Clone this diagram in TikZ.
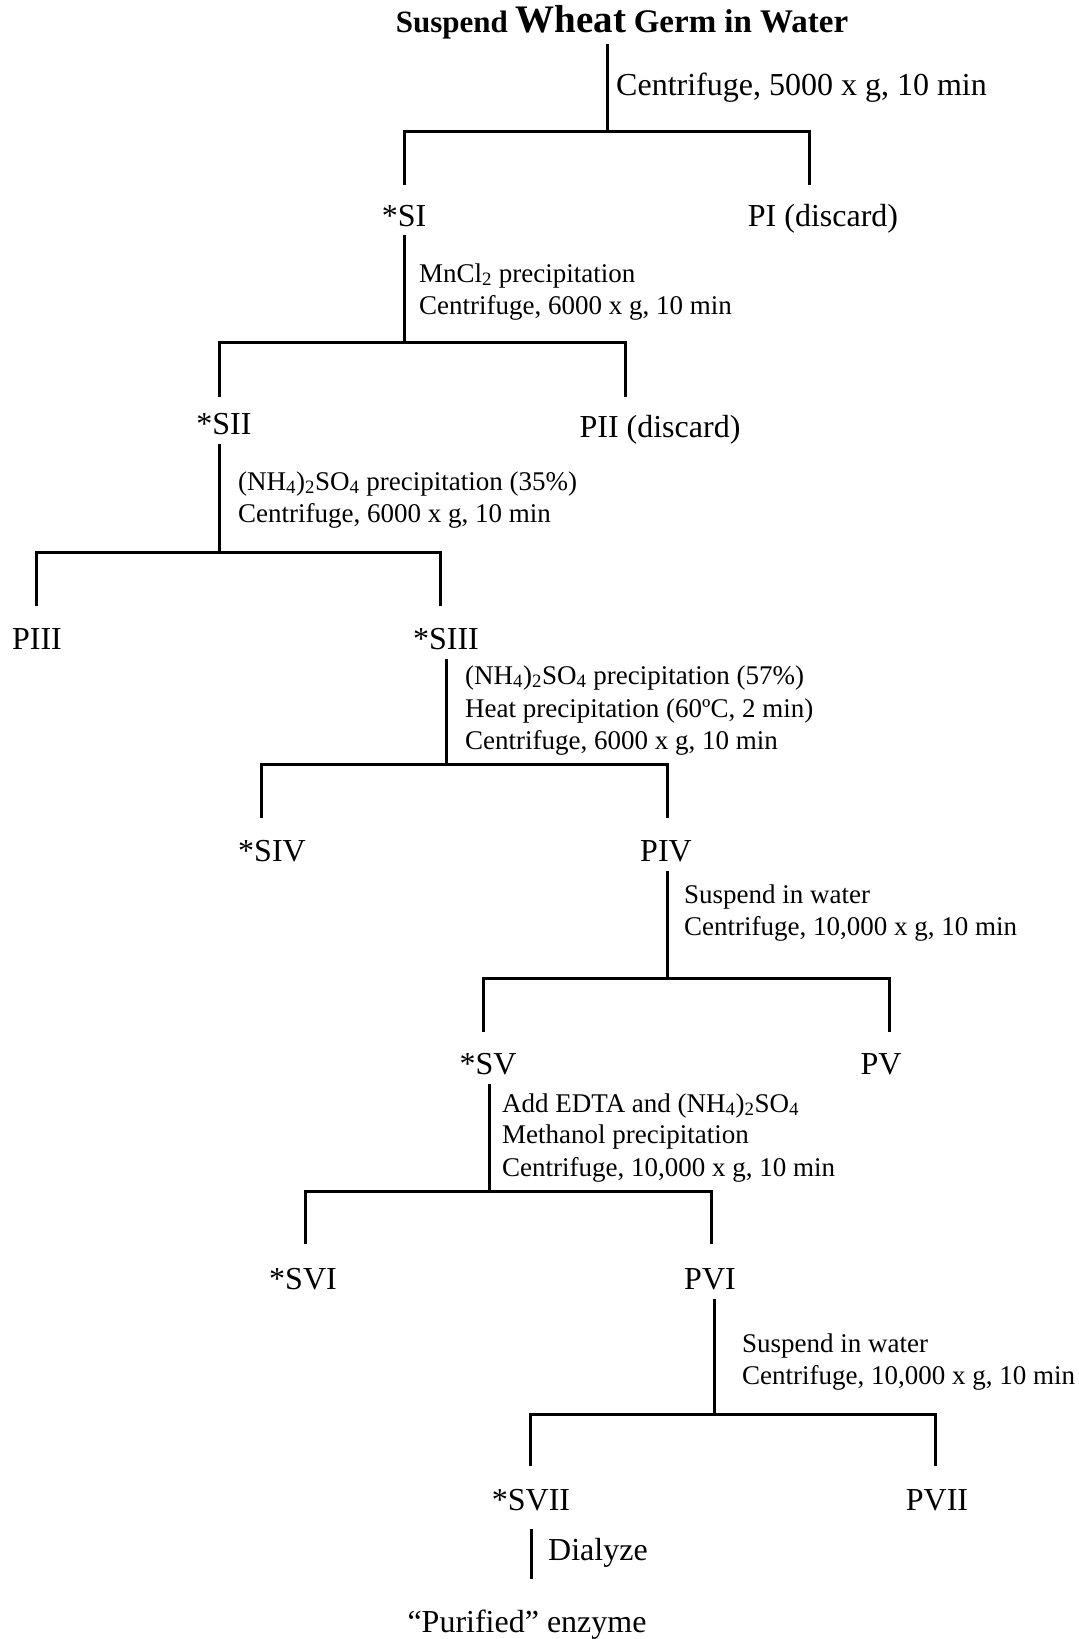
\documentclass[tikz,border=0pt]{standalone}
\usepackage{fontspec}
\setmainfont{Liberation Serif}
\begin{document}
\begin{tikzpicture}[x=1pt,y=-1pt,
  big/.style={font=\fontsize{32}{38}\selectfont, inner sep=0pt, anchor=base},
  lbig/.style={font=\fontsize{32}{38}\selectfont, inner sep=0pt, anchor=base west},
  lbl/.style={font=\fontsize{27}{32}\selectfont, inner sep=0pt, anchor=base west},
  link/.style={line width=3pt}]
\useasboundingbox (0,0) rectangle (1079,1639);

% Title
\node[inner sep=0pt, anchor=base] (title) at (622,32)
  {\bfseries\fontsize{31}{36}\selectfont Suspend {\fontsize{39}{44}\selectfont Wheat} {\fontsize{33}{38}\selectfont Germ in Water}};

% Stage 1
\coordinate (t1) at (607,44); \coordinate (j1) at (607,131);
\coordinate (l1) at (404,185); \coordinate (r1) at (809,185);
\draw[link] (t1) -- (j1);
\draw[link] (l1) |- (j1) -| (r1);
\node[lbig] (c1) at (616,95) {Centrifuge, 5000 x g, 10 min};
\node[big] (SI) at (404,226) {*SI};
\node[big] (PI) at (823,226) {PI (discard)};

% Stage 2
\coordinate (t2) at (404,235); \coordinate (j2) at (404,342);
\coordinate (l2) at (219,397); \coordinate (r2) at (625,397);
\draw[link] (t2) -- (j2);
\draw[link] (l2) |- (j2) -| (r2);
\node[lbl] (m2a) at (419,282) {MnCl\textsubscript{2} precipitation};
\node[lbl] (m2b) at (419,314) {Centrifuge, 6000 x g, 10 min};
\node[big] (SII) at (224,434) {*SII};
\node[big] (PII) at (660,437) {PII (discard)};

% Stage 3
\coordinate (t3) at (219,444); \coordinate (j3) at (219,552);
\coordinate (l3) at (36,606); \coordinate (r3) at (440,606);
\draw[link] (t3) -- (j3);
\draw[link] (l3) |- (j3) -| (r3);
\node[lbl] (m3a) at (238,490) {(NH\textsubscript{4})\textsubscript{2}SO\textsubscript{4} precipitation (35\%)};
\node[lbl] (m3b) at (238,522) {Centrifuge, 6000 x g, 10 min};
\node[big] (PIII) at (37,649) {PIII};
\node[big] (SIII) at (446,649) {*SIII};

% Stage 4
\coordinate (t4) at (446,659); \coordinate (j4) at (446,764);
\coordinate (l4) at (261,818); \coordinate (r4) at (667,818);
\draw[link] (t4) -- (j4);
\draw[link] (l4) |- (j4) -| (r4);
\node[lbl] (m4a) at (465,684) {(NH\textsubscript{4})\textsubscript{2}SO\textsubscript{4} precipitation (57\%)};
\node[lbl] (m4b) at (465,717) {Heat precipitation (60ºC, 2 min)};
\node[lbl] (m4c) at (465,749) {Centrifuge, 6000 x g, 10 min};
\node[big] (SIV) at (272,861) {*SIV};
\node[big] (PIV) at (666,861) {PIV};

% Stage 5
\coordinate (t5) at (667,871); \coordinate (j5) at (667,978);
\coordinate (l5) at (483,1032); \coordinate (r5) at (889,1032);
\draw[link] (t5) -- (j5);
\draw[link] (l5) |- (j5) -| (r5);
\node[lbl] (m5a) at (684,903) {Suspend in water};
\node[lbl] (m5b) at (684,935) {Centrifuge, 10,000 x g, 10 min};
\node[big] (SV) at (488,1074) {*SV};
\node[big] (PV) at (881,1074) {PV};

% Stage 6
\coordinate (t6) at (489,1084); \coordinate (j6) at (489,1191);
\coordinate (l6) at (305,1244); \coordinate (r6) at (711,1244);
\draw[link] (t6) -- (j6);
\draw[link] (l6) |- (j6) -| (r6);
\node[lbl] (m6a) at (502,1112) {Add EDTA and (NH\textsubscript{4})\textsubscript{2}SO\textsubscript{4}};
\node[lbl] (m6b) at (502,1143) {Methanol precipitation};
\node[lbl] (m6c) at (502,1176) {Centrifuge, 10,000 x g, 10 min};
\node[big] (SVI) at (303,1289) {*SVI};
\node[big] (PVI) at (710,1289) {PVI};

% Stage 7
\coordinate (t7) at (714,1299); \coordinate (j7) at (714,1414);
\coordinate (l7) at (530,1466); \coordinate (r7) at (935,1466);
\draw[link] (t7) -- (j7);
\draw[link] (l7) |- (j7) -| (r7);
\node[lbl] (m7a) at (742,1352) {Suspend in water};
\node[lbl] (m7b) at (742,1384) {Centrifuge, 10,000 x g, 10 min};
\node[big] (SVII) at (531,1510) {*SVII};
\node[big] (PVII) at (937,1510) {PVII};

% Stage 8
\coordinate (t8) at (531,1529); \coordinate (b8) at (531,1579);
\draw[link] (t8) -- (b8);
\node[lbig] (dia) at (548,1560) {Dialyze};
\node[big] (pur) at (527,1632) {“Purified” enzyme};
\end{tikzpicture}
\end{document}
